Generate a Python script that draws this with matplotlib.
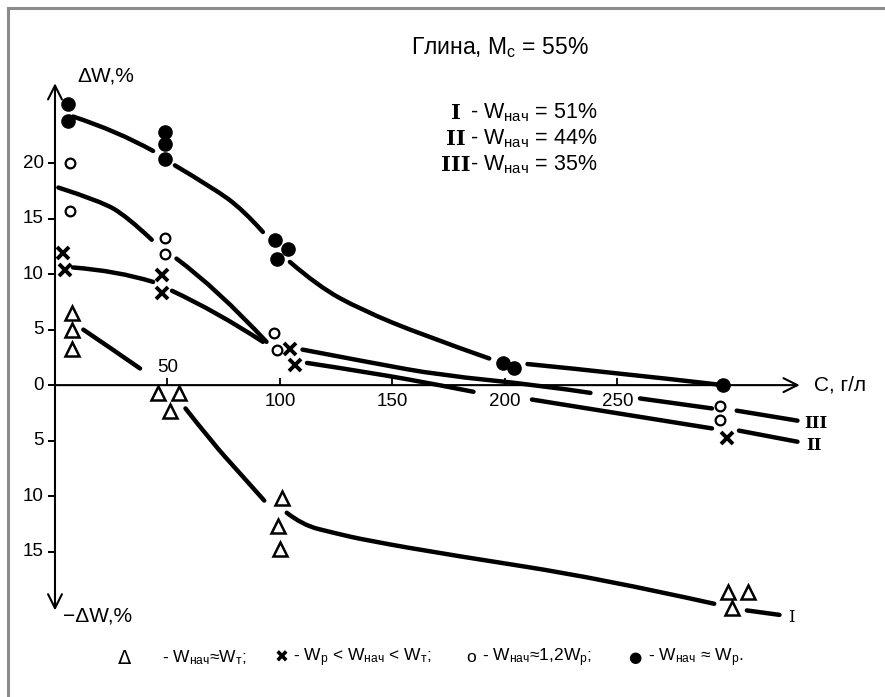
import numpy as np
import matplotlib
matplotlib.use('Agg')
import matplotlib.pyplot as plt
from matplotlib.lines import Line2D
from matplotlib.path import Path
from matplotlib.patches import PathPatch

plt.rcParams['font.family'] = ['Liberation Sans', 'DejaVu Sans']
plt.rcParams['mathtext.default'] = 'regular'

# measured points, C (г/л) vs dW (%)
tri_x = [7.5, 7.5, 7.5, 46, 55, 51, 101, 99, 100, 299, 308, 301]
tri_y = [6.5, 5.0, 3.3, -0.7, -0.7, -2.3, -10.2, -12.7, -14.8, -18.6, -18.6, -20.1]
crs_x = [3.6, 4.4, 47.6, 47.6, 104.4, 106.7, 298.6]
crs_y = [11.9, 10.4, 9.9, 8.3, 3.3, 1.8, -4.8]
opn_x = [6.7, 6.7, 49, 49, 97.3, 98.6, 295.5, 295.5]
opn_y = [20.0, 15.7, 13.3, 11.8, 4.7, 3.2, -1.9, -3.1]
fil_x = [5.8, 5.8, 49, 49, 49, 98, 103.6, 98.5, 199, 204, 297]
fil_y = [25.3, 23.8, 22.8, 21.7, 20.4, 13.1, 12.3, 11.4, 2.0, 1.5, 0.0]

# hand drawn curves, broken into pieces (gaps at the markers / labels)
curve_top = [
    [(8, 24.2), (27.6, 22.9), (43.6, 21.1)],
    [(53.3, 19.8), (70, 17.8), (83.6, 15.8), (92.4, 13.8)],
    [(104.4, 11.1), (117, 8.9), (136, 6.8), (163.5, 4.5), (193, 2.4)],
    [(210, 1.9), (250, 1.1), (297, 0.0)],
]
curve_III = [
    [(1.5, 17.8), (20, 16.6), (32, 15.2), (43, 13.1)],
    [(54, 11.4), (72, 8.7), (94, 3.9)],
    [(110, 3.2), (141, 2.0), (171, 0.9), (215, 0.0), (238, -0.7)],
    [(260, -1.2), (292, -2.1)],
    [(303, -2.3), (330, -3.2)],
]
curve_II = [
    [(8, 10.6), (27.6, 10.3), (43.6, 9.3)],
    [(52, 8.5), (72, 6.6), (92.4, 3.9)],
    [(112, 2.0), (141, 1.1), (171, 0.0), (186, -0.6)],
    [(212, -1.3), (292, -3.9)],
    [(304, -4.1), (330, -5.1)],
]
curve_I = [
    [(12.6, 5.0), (25, 3.3), (37.8, 1.5)],
    [(58, -2.1), (70, -5.2), (82, -7.9), (93, -10.4)],
    [(103, -11.5), (110, -12.6), (123.6, -13.3), (138.7, -14.0), (175.6, -15.3),
     (242, -17.4), (293, -19.7)],
    [(307.5, -20.3), (322, -20.7)],
]

x_ticks = [50, 100, 150, 200, 250]
y_ticks = [20, 15, 10, 5, 0, -5, -10, -15]


def smooth_path(pts):
    # quadratic B-spline through the hand-drawn control points
    if len(pts) < 3:
        return Path(pts)
    verts = [pts[0]]
    codes = [Path.MOVETO]
    for i in range(1, len(pts) - 1):
        p, q = pts[i], pts[i + 1]
        end = q if i == len(pts) - 2 else ((p[0] + q[0]) / 2, (p[1] + q[1]) / 2)
        verts += [p, end]
        codes += [Path.CURVE3, Path.CURVE3]
    return Path(verts, codes)


fig = plt.figure(figsize=(8.85, 6.97), dpi=100)
ax = fig.add_axes([0, 0, 1, 1])
ax.set_xlim(-24.44, 368.9)
ax.set_ylim(-28.1, 34.7)
ax.axis('off')

# frame of the scan
fig.add_artist(Line2D([8/885, 8/885], [0, 1 - 8/697], color='#8c8c8c', lw=2.2))
fig.add_artist(Line2D([8/885, 1], [1 - 8/697, 1 - 8/697], color='#8c8c8c', lw=2.2))

# axes with arrows
ax.annotate('', xy=(331, 0), xytext=(0, 0),
            arrowprops=dict(arrowstyle='->', lw=1.5, color='black',
                            mutation_scale=25, shrinkA=0, shrinkB=0))
ax.annotate('', xy=(0, 27.2), xytext=(0, -20.3),
            arrowprops=dict(arrowstyle='<->', lw=1.5, color='black',
                            mutation_scale=25, shrinkA=0, shrinkB=0))

for v in y_ticks:
    ax.plot([0, 0], [v, v], marker=0, ms=5, mew=1.3, color='black')
    ax.annotate(str(abs(v)), (0, v), xytext=(-8, 0), textcoords='offset points',
                ha='right', va='center', fontsize=13.5)
for v in x_ticks:
    ax.plot([v], [0], marker=2, ms=5, mew=1.3, color='black')
    dy = 13 if v == 50 else -12
    ax.annotate(str(v), (v, 0), xytext=(0, dy), textcoords='offset points',
                ha='center', va='center', fontsize=13.5)

ax.annotate('ΔW,%', (0, 27.2), xytext=(16, 5), textcoords='offset points',
            ha='left', va='center', fontsize=15)
ax.annotate('−ΔW,%', (0, -20.3), xytext=(6, -4), textcoords='offset points',
            ha='left', va='center', fontsize=15)
ax.annotate('C, г/л', (331, 0), xytext=(10, 0), textcoords='offset points',
            ha='left', va='center', fontsize=15)

# curves
for segs in (curve_top, curve_III, curve_II, curve_I):
    for seg in segs:
        ax.add_patch(PathPatch(smooth_path(seg), fill=False, edgecolor='black',
                               lw=3.2, capstyle='round', joinstyle='round'))

# markers
ax.plot(tri_x, tri_y, ls='none', marker='^', ms=10, mfc='white', mec='black', mew=1.8)
ax.plot(crs_x, crs_y, ls='none', marker='x', ms=9, mec='black', mew=2.8)
ax.plot(opn_x, opn_y, ls='none', marker='o', ms=7, mfc='white', mec='black', mew=1.6)
ax.plot(fil_x, fil_y, ls='none', marker='o', ms=9.5, color='black')

# curve numbers
ax.annotate('III', (330, -3.2), xytext=(5, -2), textcoords='offset points',
            ha='left', va='center', fontsize=12, family='DejaVu Serif', weight='bold')
ax.annotate('II', (330, -5.1), xytext=(6, -3), textcoords='offset points',
            ha='left', va='center', fontsize=12, family='DejaVu Serif', weight='bold')
ax.annotate('I', (322, -20.7), xytext=(6, -2), textcoords='offset points',
            ha='left', va='center', fontsize=12, family='DejaVu Serif')

# title and legends
fig.text(500/885, 1 - 48/697, 'Глина, М$_{с}$ = 55%', ha='center', va='center', fontsize=16.5)
leg_num = ['I', 'II', 'III']
leg_w = [51, 44, 35]
for i, (n, w) in enumerate(zip(leg_num, leg_w)):
    yy = 1 - (113 + 26*i)/697
    fig.text(456/885, yy, n, ha='center', va='center', fontsize=15,
             family='DejaVu Serif', weight='bold')
    fig.text(470/885, yy, '- W$_{нач}$ = %d%%' % w, ha='left', va='center', fontsize=15.5)

yb = 1 - 658/697
pieces = [
    (118, 'Δ', 'DejaVu Sans', 14),
    (162, '- W$_{нач}$≈W$_{т}$;', None, 12.5),
    (275, '✖', 'DejaVu Sans', 12),
    (293, '- W$_{р}$ < W$_{нач}$ < W$_{т}$;', None, 12.5),
    (466, 'o', None, 12.5),
    (482, '- W$_{нач}$≈1,2W$_{р}$;', None, 12.5),
    (628, '●', 'DejaVu Sans', 11),
    (648, '- W$_{нач}$ ≈ W$_{р}$.', None, 12.5),
]
for px, s, fam, fs in pieces:
    kw = {'family': fam} if fam else {}
    fig.text(px/885, yb, s, ha='left', va='center', fontsize=fs, **kw)

fig.savefig('out.png', dpi=100, facecolor='white')
